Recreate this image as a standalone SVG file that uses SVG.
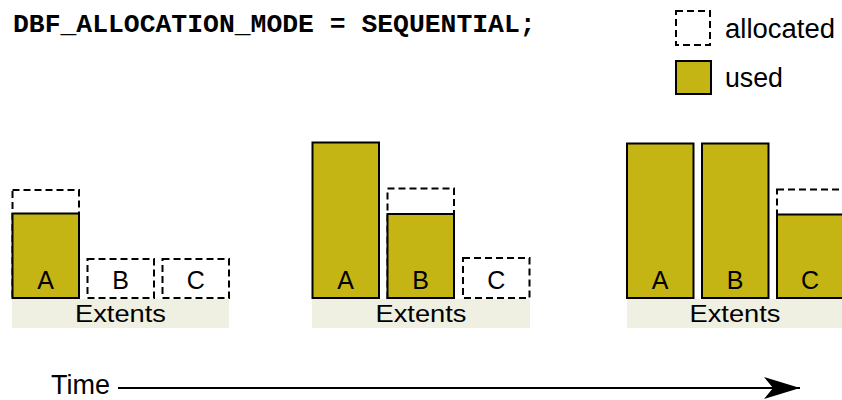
<svg xmlns="http://www.w3.org/2000/svg" width="842" height="400" viewBox="0 0 842 400">
<defs>
<style>
.used{fill:#c4b514;stroke:#000;stroke-width:2}
.alloc{fill:none;stroke:#000;stroke-width:2;stroke-dasharray:7 4}
.band{fill:#efefe2;stroke:none}
.lbl{font-family:"Liberation Sans",Arial,sans-serif;font-size:25px;fill:#000;text-anchor:middle}
.ext{font-family:"Liberation Sans",Arial,sans-serif;font-size:24px;fill:#000;text-anchor:middle}
.leg{font-family:"Liberation Sans",Arial,sans-serif;font-size:27px;fill:#000}
.code{font-family:"Liberation Mono","Courier New",monospace;font-size:26.4px;font-weight:bold;fill:#000}
</style>
<marker id="arr" viewBox="0 0 36 22" refX="36" refY="11" markerWidth="36" markerHeight="22" markerUnits="userSpaceOnUse" orient="auto">
<path d="M0,0 L36,11 L0,22 L9,11 Z" fill="#000"/>
</marker>
</defs>
<rect width="842" height="400" fill="#fff"/>
<text class="code" x="13" y="32">DBF_ALLOCATION_MODE = SEQUENTIAL;</text>
<g id="legend">
<rect class="alloc" x="676" y="11" width="34" height="34"/>
<text class="leg" x="725" y="38" textLength="110" lengthAdjust="spacingAndGlyphs">allocated</text>
<rect class="used" x="676" y="61" width="35" height="33"/>
<text class="leg" x="725" y="87" textLength="58" lengthAdjust="spacingAndGlyphs">used</text>
</g>
<g id="stage1">
<rect class="band" x="12" y="299" width="217" height="29"/>
<text class="ext" x="120.5" y="322" textLength="91" lengthAdjust="spacingAndGlyphs">Extents</text>
<g id="s1A">
<rect class="alloc" x="12.5" y="190" width="66.5" height="108"/>
<rect class="used" x="12.5" y="213.5" width="66.5" height="84.5"/>
<text class="lbl" x="45.7" y="289">A</text>
</g>
<g id="s1B">
<rect class="alloc" x="87.5" y="259" width="66.5" height="39"/>
<text class="lbl" x="120.7" y="289">B</text>
</g>
<g id="s1C">
<rect class="alloc" x="162.5" y="259" width="66.5" height="39"/>
<text class="lbl" x="195.7" y="289">C</text>
</g>
</g>
<g id="stage2">
<rect class="band" x="312" y="299" width="218" height="29"/>
<text class="ext" x="421" y="322" textLength="91" lengthAdjust="spacingAndGlyphs">Extents</text>
<g id="s2A">
<rect class="used" x="312.5" y="142.5" width="66.5" height="155.5"/>
<text class="lbl" x="345.7" y="289">A</text>
</g>
<g id="s2B">
<rect class="alloc" x="387.5" y="188.5" width="66.5" height="109.5"/>
<rect class="used" x="387.5" y="214" width="66.5" height="84"/>
<text class="lbl" x="420.7" y="289">B</text>
</g>
<g id="s2C">
<rect class="alloc" x="463" y="258" width="66.5" height="40"/>
<text class="lbl" x="496.2" y="289">C</text>
</g>
</g>
<g id="stage3">
<rect class="band" x="627" y="299" width="217" height="29"/>
<text class="ext" x="735" y="322" textLength="91" lengthAdjust="spacingAndGlyphs">Extents</text>
<g id="s3A">
<rect class="used" x="627" y="143.5" width="66.5" height="154.5"/>
<text class="lbl" x="660.2" y="289">A</text>
</g>
<g id="s3B">
<rect class="used" x="702" y="143.5" width="66.5" height="154.5"/>
<text class="lbl" x="735.2" y="289">B</text>
</g>
<g id="s3C">
<rect class="alloc" x="777" y="189.5" width="70" height="108.5"/>
<rect class="used" x="777" y="214.5" width="70" height="83.5"/>
<text class="lbl" x="810" y="289">C</text>
</g>
</g>
<g id="time">
<text class="leg" x="51" y="394" textLength="59" lengthAdjust="spacingAndGlyphs">Time</text>
</g>
<g id="connectors">
<line x1="118" y1="388" x2="800" y2="388" stroke="#000" stroke-width="2" marker-end="url(#arr)"/>
</g>
</svg>
